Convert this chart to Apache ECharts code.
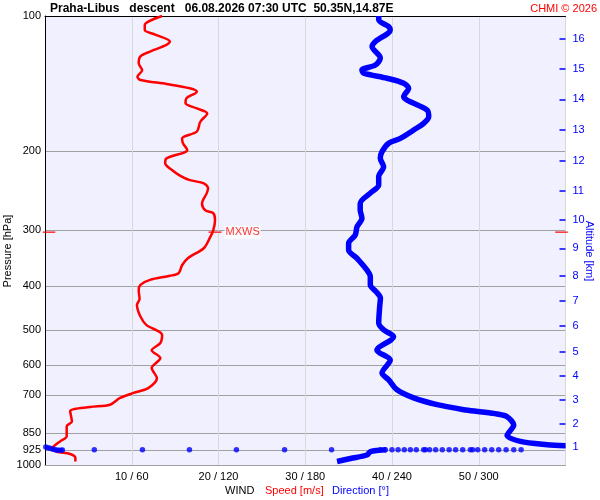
<!DOCTYPE html>
<html><head><meta charset="utf-8">
<script src="https://cdn.jsdelivr.net/npm/echarts@6/dist/echarts.min.js"></script>
<style>html,body{margin:0;padding:0;background:#fff}#c{width:600px;height:500px}</style>
</head><body><div id="c"></div>
<script>
const FONT = '"Liberation Sans", Arial, sans-serif';
const RED = '#ff0000', BLUE = '#0000ff';

const titleText = 'Praha-Libus   descent   06.08.2026 07:30 UTC  50.35N,14.87E';
const copyrightText = 'CHMI \u00a9 2026';

const pressureTicks = [100, 200, 300, 400, 500, 600, 700, 850, 925, 1000];
const speedTicks = [10, 20, 30, 40, 50];
const directionTicks = [60, 120, 180, 240, 300];
const altitudeKm = [1, 2, 3, 4, 5, 6, 7, 8, 9, 10, 11, 12, 13, 14, 15, 16];
const altitudePressure = [910.6, 810.5, 716.5, 633.7, 559.4, 490.2, 431.2, 378.8, 329.2, 284.7, 244.9, 210.0, 179.4, 153.3, 131.2, 112.5];

// [pressure hPa, speed m/s]
const windSpeed = [
  [100, 13.5], [104.7, 11.5], [107.4, 11.5], [110, 12.7], [114, 14.4], [116, 14.0], [120, 12.1],
  [123, 11.0], [127.5, 10.8], [132, 11.2], [136.5, 10.65], [138.8, 11.0], [141.7, 14.0], [144.9, 16.7],
  [147.4, 17.5], [152.5, 16.3], [156.5, 16.2], [160.6, 17.5], [164.8, 18.7], [172, 17.9], [181, 17.5],
  [187.3, 15.8], [192, 15.9], [198.7, 16.4], [207.5, 14.0], [212.7, 13.85], [220, 14.6], [227, 15.6],
  [232, 16.7], [235.8, 18.3], [242, 18.8], [248, 18.65], [261.5, 18.1], [271, 18.5], [275, 19.4],
  [284.5, 19.6], [299.8, 19.4], [312, 19.0], [329, 18.3], [346, 16.5], [359, 15.8], [374, 15.4],
  [379, 14.4], [387, 12.1], [397, 11.0], [408, 10.8], [427, 10.9], [440, 10.6], [467, 11.0],
  [488, 11.7], [513, 13.5], [535, 13.3], [555, 12.3], [578, 13.3], [608, 12.3], [641, 12.9],
  [674, 11.9], [691, 10.2], [709, 8.65], [734, 7.5], [743, 5.2], [759, 2.9], [800, 3.1], [820, 2.5],
  [863, 2.5], [886, 1.73], [910, 0.96], [917, 0.77], [934, 1.35], [945, 2.9], [964, 3.5], [982, 3.5]
];

// [pressure hPa, direction deg]
const windDirUpper = [
  [100, 230.8], [102, 230.8], [105.6, 237.7], [107.4, 238.8], [114, 228.5], [117, 226.2], [124, 231.9],
  [128.6, 228.5], [131.9, 219.2], [134, 220.4], [137.6, 236.6], [141.2, 248.1], [144.9, 251.5],
  [151.3, 248.1], [153.9, 250.4], [162, 264.3], [167.7, 265.4], [173.4, 261.9], [179.4, 255],
  [187.3, 245.8], [192, 237.7], [200.5, 233.1], [207.5, 231.9], [216.6, 234.2], [228, 230.8],
  [238, 230.8], [248, 225], [261.5, 218], [270.5, 218], [282, 219.2], [294.8, 215.8], [307.4, 214.6],
  [320.8, 210], [332.2, 210], [346.4, 215.8], [368, 222.7], [380.6, 225], [397.5, 225], [411, 229],
  [425, 232], [443, 231.5], [483, 230.8], [500, 234.2], [518, 241.1], [555, 229.6], [584, 238.8],
  [624, 233.1], [646, 237.7], [680, 243.5], [709, 255], [734, 271.2], [753, 289.6], [761, 301],
  [770, 312.7], [781, 319.6], [815, 324.2], [859, 319.6], [886, 328.9], [901, 347.3], [906, 360]
];
const windDirLower = [[982, 202], [967, 211.3], [950, 222.7], [934, 225], [925, 236]];
const windDirDots = [
  [925, 34.1], [925, 67.4], [925, 99.9], [925, 132.4], [925, 165.7], [925, 198.2], [925, 231.9],
  [925, 235.4], [925, 240], [925, 244.2], [925, 248.5], [925, 252.7], [925, 256.8], [925, 261.9],
  [925, 263.1], [925, 266], [925, 270.2], [925, 274.8], [925, 279.5], [925, 284], [925, 288.9],
  [925, 294.2], [925, 295.8], [925, 299.3], [925, 304.1], [925, 309], [925, 313.8], [925, 318.9],
  [925, 324.2], [925, 329.3],
  [912, 0.5], [915, 2], [918, 3.5], [921, 5], [924, 6.5], [926, 8], [927, 9.5], [927, 11], [926, 12]
];
const mxws = { speed: 19.6, pressure: 303 };

const log10 = Math.log10;
const chart = echarts.init(document.getElementById('c'), null, { renderer: 'canvas' });

const baseText = { fontFamily: FONT, fontSize: 11 };

chart.setOption({
  animation: false,
  backgroundColor: '#ffffff',
  textStyle: { fontFamily: FONT },
  grid: { left: 45, right: 34.5, top: 16, bottom: 35, show: true, backgroundColor: '#f0f0ff', borderWidth: 0 },
  xAxis: [
    {
      type: 'value', min: 0, max: 60, interval: 10, position: 'bottom',
      axisLine: { show: true, onZero: false, lineStyle: { color: '#a0a0a0', width: 1 } },
      axisTick: { show: false },
      axisLabel: {
        ...baseText, color: '#000', margin: 6,
        formatter: v => { const i = speedTicks.indexOf(v); return i < 0 ? '' : speedTicks[i] + ' / ' + directionTicks[i]; }
      },
      splitLine: { show: true, showMinLine: false, lineStyle: { color: '#d8d8d8', width: 1 } }
    },
    {
      type: 'value', min: 0, max: 360, position: 'top',
      axisLine: { show: true, onZero: false, lineStyle: { color: '#000', width: 1 } },
      axisTick: { show: false }, axisLabel: { show: false }, splitLine: { show: false }
    }
  ],
  yAxis: [
    { type: 'log', logBase: 10, min: 100, max: 1000, inverse: true, show: false },
    {
      type: 'value', min: 2, max: 3, inverse: true, position: 'left',
      axisLine: { show: true, onZero: false, lineStyle: { color: '#000', width: 1 } },
      axisTick: { show: false, customValues: pressureTicks.map(log10) },
      axisLabel: {
        ...baseText, color: '#000', margin: 4,
        customValues: pressureTicks.map(log10),
        formatter: v => String(Math.round(Math.pow(10, v)))
      },
      splitLine: { show: true, showMinLine: false, lineStyle: { color: '#a0a0a0', width: 1 } }
    },
    {
      type: 'value', min: 2, max: 3, inverse: true, position: 'right',
      axisLine: { show: true, onZero: false, lineStyle: { color: '#d8d8d8', width: 1 } },
      axisTick: { show: true, inside: true, length: 6, customValues: altitudePressure.map(log10), lineStyle: { color: BLUE, width: 1.5 } },
      axisLabel: {
        ...baseText, color: BLUE, margin: 7,
        customValues: altitudePressure.map(log10),
        formatter: v => {
          let best = 0, d = Infinity;
          altitudePressure.forEach((p, i) => { const e = Math.abs(log10(p) - v); if (e < d) { d = e; best = i; } });
          return String(altitudeKm[best]);
        }
      },
      splitLine: { show: false }
    }
  ],
  series: [
    {
      name: 'Speed', type: 'line', xAxisIndex: 0, yAxisIndex: 0, showSymbol: false, symbol: 'none',
      smooth: 0.3,
      lineStyle: { color: RED, width: 2.5 }, data: windSpeed.map(([p, v]) => [v, p]), z: 3
    },
    {
      name: 'Direction', type: 'line', xAxisIndex: 1, yAxisIndex: 0, showSymbol: false, symbol: 'none',
      smooth: 0.3,
      lineStyle: { color: BLUE, width: 5.5 }, data: windDirUpper.map(([p, d]) => [d, p]), z: 4
    },
    {
      name: 'Direction low', type: 'line', xAxisIndex: 1, yAxisIndex: 0, showSymbol: false, symbol: 'none',
      smooth: 0.3,
      lineStyle: { color: BLUE, width: 5.5 }, data: windDirLower.map(([p, d]) => [d, p]), z: 4
    },
    {
      name: 'Direction points', type: 'scatter', xAxisIndex: 1, yAxisIndex: 0, symbolSize: 5.5, clip: false,
      itemStyle: { color: BLUE }, data: windDirDots.map(([p, d]) => [d, p]), z: 5
    },
    {
      name: 'MXWS', type: 'scatter', xAxisIndex: 0, yAxisIndex: 0, symbol: 'rect', symbolSize: [13, 1.5], clip: false,
      itemStyle: { color: RED }, z: 6,
      label: { show: true, formatter: 'MXWS', position: 'right', distance: 3, color: RED, backgroundColor: '#ffffff', padding: [1, 1], ...baseText },
      data: [[mxws.speed, mxws.pressure]]
    },
    {
      name: 'MXWS edges', type: 'scatter', xAxisIndex: 0, yAxisIndex: 0, symbol: 'rect', symbolSize: [12.5, 1.5], clip: false,
      itemStyle: { color: RED }, z: 6,
      data: [{ value: [0, mxws.pressure], symbolOffset: [4, 0] }, { value: [60, mxws.pressure], symbolOffset: [-4, 0] }]
    }
  ],
  graphic: [
    { type: 'text', x: 50, y: 9, style: { text: titleText, fill: '#000', font: 'bold 12px ' + FONT, align: 'left', verticalAlign: 'middle' } },
    { type: 'text', x: 597, y: 9, style: { text: copyrightText, fill: RED, font: '11px ' + FONT, align: 'right', verticalAlign: 'middle' } },
    { type: 'text', x: 8, y: 251, rotation: Math.PI / 2, style: { text: 'Pressure [hPa]', fill: '#000', font: '11px ' + FONT, align: 'center', verticalAlign: 'middle' } },
    { type: 'text', x: 589, y: 251, rotation: -Math.PI / 2, style: { text: 'Altitude [km]', fill: BLUE, font: '11px ' + FONT, align: 'center', verticalAlign: 'middle' } },
    { type: 'text', x: 225, y: 491, style: { text: 'WIND', fill: '#000', font: '11px ' + FONT, align: 'left', verticalAlign: 'middle' } },
    { type: 'text', x: 265, y: 491, style: { text: 'Speed [m/s]', fill: RED, font: '11px ' + FONT, align: 'left', verticalAlign: 'middle' } },
    { type: 'text', x: 332, y: 491, style: { text: 'Direction [\u00b0]', fill: BLUE, font: '11px ' + FONT, align: 'left', verticalAlign: 'middle' } }
  ]
});
</script></body></html>
